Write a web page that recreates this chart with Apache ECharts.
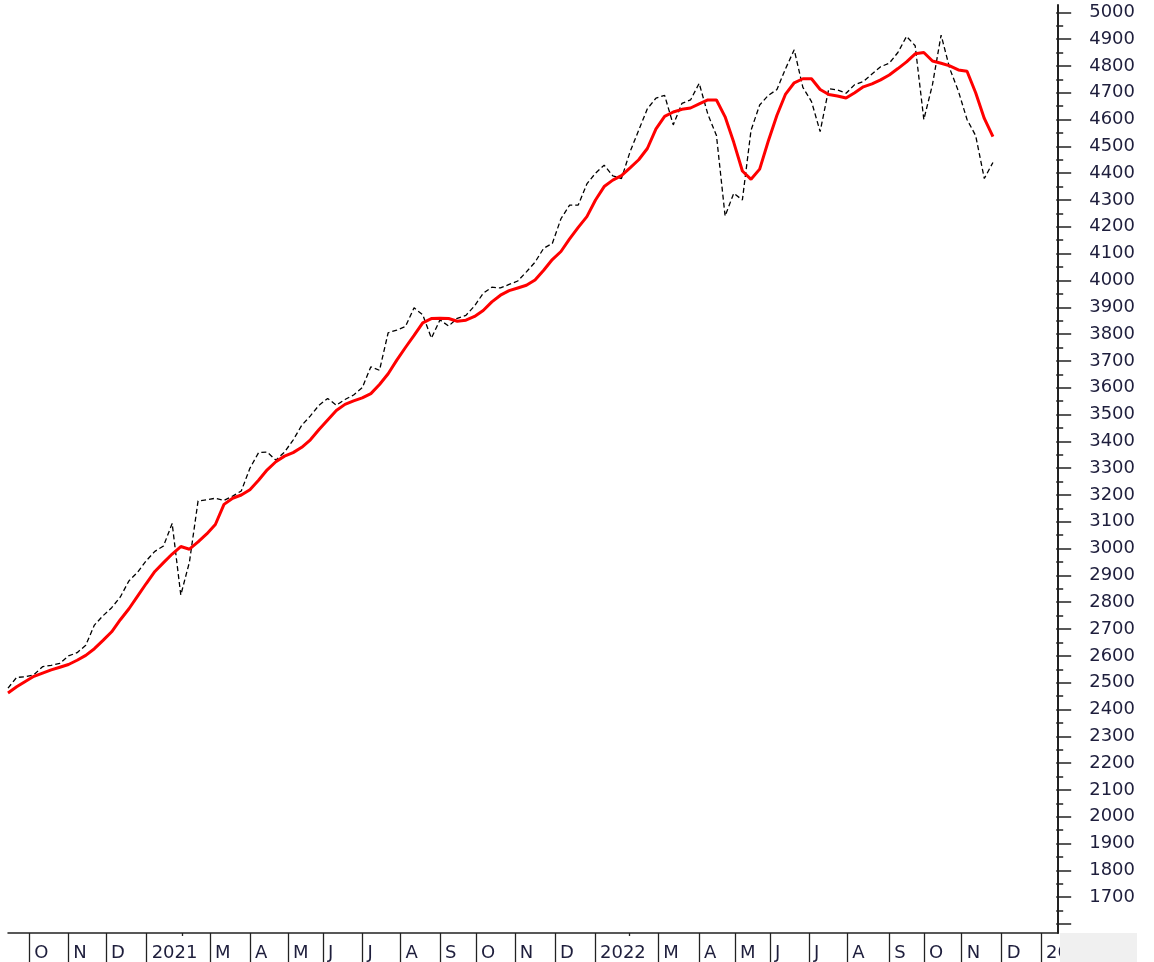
<!DOCTYPE html>
<html>
<head>
<meta charset="utf-8">
<title>Index with moving average</title>
<script src="https://cdn.jsdelivr.net/npm/echarts@6/dist/echarts.min.js"></script>
<style>
  html, body { margin: 0; padding: 0; background: #fff; }
  #chart { width: 1138px; height: 962px; }
</style>
</head>
<body>
<div id="chart"></div>
<script>
// weekly closes (dashed black), one value per week starting mid-Sep 2020
var closes = [
  2480, 2520, 2522, 2530, 2560, 2565, 2572, 2600, 2612, 2640,
  2715, 2750, 2780, 2820, 2880, 2912, 2955, 2990, 3010, 3094,
  2827, 2950, 3178, 3182, 3188, 3180, 3196, 3215, 3300, 3358,
  3360, 3330, 3360, 3405, 3460, 3495, 3535, 3560, 3535, 3556,
  3573, 3600, 3678, 3665, 3805, 3815, 3828, 3898, 3872, 3785,
  3853, 3830, 3859, 3870, 3905, 3952, 3975, 3972, 3985, 3998,
  4032, 4068, 4120, 4138, 4230, 4281, 4281, 4360, 4400, 4430,
  4390, 4380, 4480, 4560, 4640, 4680, 4690, 4580, 4660, 4673,
  4735, 4620, 4540, 4240, 4325, 4300, 4560, 4654, 4690, 4712,
  4790, 4860, 4720, 4667, 4555, 4715, 4710, 4698, 4730, 4742,
  4770, 4797, 4810, 4850, 4910, 4875, 4600, 4730, 4915, 4790,
  4706, 4600, 4540, 4380, 4440
];

// moving average (solid red)
var average = [
  2462, 2485, 2505, 2524, 2536, 2548, 2558, 2568, 2584, 2602,
  2627, 2658, 2690, 2735, 2776, 2823, 2870, 2915, 2948, 2980,
  3008, 2998, 3025, 3055, 3090, 3165, 3188, 3200, 3220, 3255,
  3294, 3324, 3345, 3358, 3378, 3406, 3444, 3480, 3515, 3538,
  3551, 3562, 3578, 3612, 3652, 3703, 3750, 3795, 3842, 3858,
  3859, 3858, 3848, 3852, 3866, 3888, 3920, 3945, 3962, 3972,
  3982, 4002, 4038, 4078, 4108, 4155, 4198, 4238, 4300, 4350,
  4374, 4391, 4420, 4450, 4492, 4565, 4612, 4628, 4638, 4643,
  4658, 4673, 4673, 4610, 4515, 4408, 4377, 4415, 4520, 4616,
  4695, 4737, 4752, 4752, 4712, 4693, 4688, 4680, 4700, 4722,
  4733, 4748, 4766, 4790, 4815, 4845, 4850, 4818, 4810, 4800,
  4785, 4780, 4700, 4604, 4536
];

// month starts, in weeks from the first bar
var monthStarts = [2.47, 6.98, 11.34, 16.05, 23.38, 28.01, 32.41, 36.46, 41.02, 45.42,
  50.0, 54.17, 58.66, 63.31, 67.94, 75.27, 79.98, 84.14, 88.19, 92.71,
  97.14, 102.0, 106.02, 110.38, 115.01, 119.56];
var monthLabels = ['O', 'N', 'D', '2021', 'M', 'A', 'M', 'J', 'J', 'A',
  'S', 'O', 'N', 'D', '2022', 'M', 'A', 'M', 'J', 'J',
  'A', 'S', 'O', 'N', 'D', '2023'];
var febStarts = [20.22, 71.91];

var weeksShown = 121.53;

var labelFont = 'DejaVu Sans';
var labelColor = '#1e1e3c';

var closeData = closes.map(function (v, i) { return [i, v]; });
var avgData = average.map(function (v, i) { return [i, v]; });

var labelOf = {};
monthStarts.forEach(function (w, i) { labelOf[w] = monthLabels[i]; });

var chart = echarts.init(document.getElementById('chart'), null, {renderer: 'canvas'});

chart.setOption({
  animation: false,
  backgroundColor: '#fff',
  grid: [
    {left: 8, right: 80, top: 5, bottom: 29},
    {left: 8, right: 80, top: 12.3, bottom: 38}
  ],
  xAxis: [
    {
      type: 'value', gridIndex: 0, min: 0, max: weeksShown, position: 'bottom',
      splitLine: {show: false},
      axisLine: {show: true, onZero: false, lineStyle: {color: '#222', width: 1.5}},
      axisTick: {show: true, inside: false, length: 32, customValues: monthStarts,
        lineStyle: {color: '#222', width: 1.3}},
      axisLabel: {
        show: true, customValues: monthStarts, align: 'left', margin: 11,
        padding: [0, 0, 0, 5],
        fontFamily: labelFont, fontSize: 18, color: labelColor,
        formatter: function (v) { return labelOf[v] || ''; }
      }
    },
    {
      type: 'value', gridIndex: 0, min: 0, max: weeksShown, position: 'bottom', offset: 0,
      splitLine: {show: false},
      axisLine: {show: false, onZero: false},
      axisTick: {show: true, inside: false, length: 3, customValues: febStarts,
        lineStyle: {color: '#222', width: 1.3}},
      axisLabel: {show: false}
    },
    {
      type: 'value', gridIndex: 1, min: 0, max: weeksShown, show: false
    }
  ],
  yAxis: [
    {
      type: 'value', gridIndex: 0, min: 1567, max: 5027, position: 'right',
      splitLine: {show: false},
      axisLine: {show: true, onZero: false, lineStyle: {color: '#222', width: 2}},
      axisTick: {show: false},
      axisLabel: {show: false}
    },
    {
      type: 'value', gridIndex: 1, min: 1600, max: 5000, interval: 100, position: 'right',
      splitLine: {show: false},
      axisLine: {show: false, onZero: false},
      axisTick: {show: true, inside: false, length: 15, lineStyle: {color: '#222', width: 1.5}},
      minorTick: {show: true, splitNumber: 2, length: 7, lineStyle: {color: '#222', width: 1.5}},
      minorSplitLine: {show: false},
      axisLabel: {
        margin: 33, padding: [4, 0, 0, 0],
        fontFamily: labelFont, fontSize: 18, color: labelColor,
        formatter: function (v) { return v === 1600 ? '' : String(v); }
      }
    }
  ],
  graphic: [
    {
      type: 'rect', z: 100, silent: true,
      shape: {x: 1060, y: 933, width: 77, height: 29},
      style: {fill: '#f0f0f0'}
    }
  ],
  series: [
    {
      type: 'line', xAxisIndex: 0, yAxisIndex: 0, data: closeData,
      showSymbol: false, z: 2,
      lineStyle: {color: '#000', width: 1.3, type: [5, 3]}
    },
    {
      type: 'line', xAxisIndex: 0, yAxisIndex: 0, data: avgData,
      showSymbol: false, z: 3,
      lineStyle: {color: '#ff0000', width: 3}
    }
  ]
});
</script>
</body>
</html>
